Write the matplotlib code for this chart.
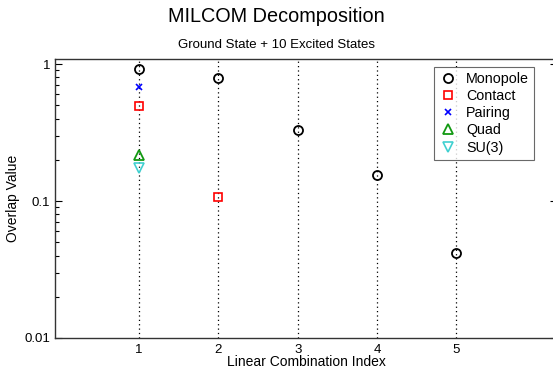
import numpy as np
import matplotlib.pyplot as plt
from matplotlib.ticker import LogLocator, NullFormatter, FixedLocator

plt.rcParams['font.family'] = ['Liberation Sans', 'DejaVu Sans']

# overlap values per linear combination index
idx_monopole = [1, 2, 3, 4, 5]
monopole = [0.92, 0.79, 0.33, 0.155, 0.042]
idx_contact = [1, 2]
contact = [0.49, 0.107]
idx_pairing = [1]
pairing = [0.68]
idx_quad = [1]
quad = [0.217]
idx_su3 = [1]
su3 = [0.174]

fig = plt.figure(figsize=(5.53, 3.70), dpi=100)
ax = fig.add_axes([55 / 553, 1 - 338 / 370, (557 - 55) / 553, (338 - 59) / 370])

ms = 6.5
ax.plot(idx_monopole, monopole, 'o', mfc='none', mec='black', mew=1.3, ms=ms, label='Monopole')
ax.plot(idx_contact, contact, 's', mfc='none', mec='red', mew=1.2, ms=ms - 0.5, label='Contact')
ax.plot(idx_pairing, pairing, 'x', color='blue', mew=1.2, ms=ms - 1.5, label='Pairing')
ax.plot(idx_quad, quad, '^', mfc='none', mec='#119911', mew=1.3, ms=ms, label='Quad')
ax.plot(idx_su3, su3, 'v', mfc='none', mec='#40d0d0', mew=1.2, ms=ms, label='SU(3)')

ax.set_yscale('log')
ax.set_ylim(0.01, 1.088)
ax.set_xlim(-0.06, 6.27)
ax.xaxis.set_major_locator(FixedLocator([1, 2, 3, 4, 5]))
ax.set_yticks([0.01, 0.1, 1])
ax.set_yticklabels(['0.01', '0.1', '1'])
ax.yaxis.set_minor_locator(LogLocator(base=10, subs=np.arange(2, 10)))
ax.yaxis.set_minor_formatter(NullFormatter())

ax.tick_params(which='both', direction='in', top=False, right=True, labelsize=9.5)
ax.tick_params(which='major', length=5, width=0.8)
ax.tick_params(which='minor', length=3, width=0.8)
ax.tick_params(axis='x', length=0, pad=4)
ax.xaxis.grid(True, linestyle=(0, (1, 2.5)), color='black', linewidth=0.9)

for s in ax.spines.values():
    s.set_color('#333333')
    s.set_linewidth(1.0)

ax.set_xlabel('Linear Combination Index', fontsize=10)
ax.xaxis.set_label_coords(0.5, -0.062)
ax.set_ylabel('Overlap Value', fontsize=10, va='center')
ax.yaxis.set_label_coords(-0.083, 0.5)

fig.text(0.5, 1 - 17 / 370, 'MILCOM Decomposition', ha='center', va='center', fontsize=14.3)
fig.text(0.5, 1 - 45 / 370, 'Ground State + 10 Excited States', ha='center', va='center', fontsize=9.5)

leg = ax.legend(loc='upper left', bbox_to_anchor=((434 - 55) / (557 - 55), 1 - 8 / 279),
                frameon=True, fancybox=False, fontsize=10.3, handletextpad=0.7,
                borderpad=0.35, labelspacing=0.22, handlelength=1.2, borderaxespad=0)
leg.get_frame().set_edgecolor('#444444')
leg.get_frame().set_linewidth(0.8)

fig.savefig('out.png', dpi=100)
